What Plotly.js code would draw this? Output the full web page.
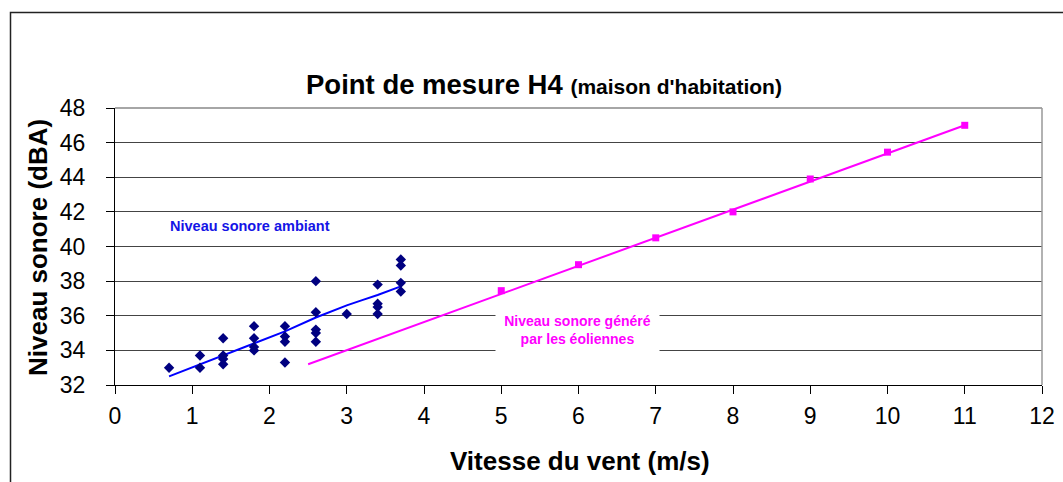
<!DOCTYPE html>
<html>
<head>
<meta charset="utf-8">
<script src="https://cdn.plot.ly/plotly-3.0.1.min.js"></script>
<style>
html,body{margin:0;padding:0;background:#fff;}
#chart{width:1063px;height:482px;}
</style>
</head>
<body>
<div id="chart"></div>
<script>
// Measured ambient noise (scatter)
const ambientWind = [0.7,1.1,1.1,1.4,1.4,1.4,1.4,1.8,1.8,1.8,1.8,2.2,2.2,2.2,2.2,2.6,2.6,2.6,2.6,2.6,3.0,3.4,3.4,3.4,3.4,3.7,3.7,3.7,3.7];
const ambientLevel = [33.0,33.7,33.0,34.7,33.7,33.5,33.2,35.4,34.7,34.2,34.0,35.4,34.8,34.5,33.3,38.0,36.2,35.2,35.0,34.5,36.1,37.8,36.7,36.5,36.1,39.25,38.9,37.9,37.4];
// Ambient trend curve
const ambientTrendWind = [0.7,1.1,1.4,1.8,2.2,2.6,3.0,3.2,3.4,3.7];
const ambientTrendLevel = [32.5,33.2,33.7,34.4,35.1,35.9,36.6,36.9,37.2,37.7];
// Wind-turbine generated noise
const turbineWind = [5,6,7,8,9,10,11];
const turbineLevel = [37.45,38.95,40.5,42.0,43.9,45.45,47.0];
// Turbine trend line
const turbineTrendWind = [2.5,11];
const turbineTrendLevel = [33.2,47.0];

const xTicks = [0,1,2,3,4,5,6,7,8,9,10,11,12];
const yTicks = [32,34,36,38,40,42,44,46,48];

const FONT = 'Liberation Sans, Arial, sans-serif';

// pixel helpers for paper coordinates
const L = 115, R = 1063-1042, T = 108, B = 482-385;
const W = 1063 - L - R, H = 482 - T - B;
const px = x => (x - L) / W;
const py = y => (482 - B - y) / H;

const traces = [
  {x: ambientTrendWind, y: ambientTrendLevel, mode:'lines', line:{color:'#0000FF', width:2}, hoverinfo:'skip'},
  {x: ambientWind, y: ambientLevel, mode:'markers', marker:{symbol:'diamond', color:'#000080', size:8}},
  {x: turbineTrendWind, y: turbineTrendLevel, mode:'lines', line:{color:'#FF00FF', width:2}, hoverinfo:'skip'},
  {x: turbineWind, y: turbineLevel, mode:'markers', marker:{symbol:'square', color:'#FF00FF', size:7}}
];

const layout = {
  width:1063, height:482,
  margin:{l:L, r:R, t:T, b:B, pad:0},
  paper_bgcolor:'#fff', plot_bgcolor:'#fff',
  showlegend:false,
  font:{family:FONT, color:'#000'},
  xaxis:{
    range:[0,12], tickvals:xTicks, ticktext:xTicks.map(String),
    showgrid:false, zeroline:false,
    showline:true, linecolor:'#000', linewidth:1,
    ticks:'outside', ticklen:8, tickcolor:'#000', tickwidth:1,
    tickfont:{family:FONT, size:23, color:'#000'}, ticklabelstandoff:2
  },
  yaxis:{
    range:[32,48], tickvals:yTicks, ticktext:yTicks.map(String),
    showgrid:true, gridcolor:'#444', gridwidth:1, zeroline:false,
    showline:true, linecolor:'#000', linewidth:1,
    ticks:'outside', ticklen:8, tickcolor:'#000', tickwidth:1,
    tickfont:{family:FONT, size:23, color:'#000'}, ticklabelstandoff:16
  },
  shapes:[
    // plot area top and right frame (grey)
    {type:'line', xref:'paper', yref:'paper', x0:0, x1:1, y0:1, y1:1, line:{color:'#888', width:1.5}},
    {type:'line', xref:'paper', yref:'paper', x0:1, x1:1, y0:0, y1:1, line:{color:'#999', width:1.5}},
    // outer chart border
    {type:'rect', xref:'paper', yref:'paper', x0:px(10.5), x1:px(1075), y0:py(12.5), y1:py(495), line:{color:'#222', width:1.5}, fillcolor:'rgba(0,0,0,0)', layer:'above'}
  ],
  annotations:[
    {xref:'paper', yref:'paper', x:px(544), y:py(84), xanchor:'center', yanchor:'middle', showarrow:false,
     text:'<b>Point de mesure H4</b> <b><span style="font-size:21px">(maison d\'habitation)</span></b>',
     font:{family:FONT, size:27.5, color:'#000'}},
    {xref:'paper', yref:'paper', x:px(38), y:py(248), xanchor:'center', yanchor:'middle', showarrow:false, textangle:-90,
     text:'<b>Niveau sonore (dBA)</b>', font:{family:FONT, size:26, color:'#000'}},
    {xref:'paper', yref:'paper', x:px(580), y:py(461), xanchor:'center', yanchor:'middle', showarrow:false,
     text:'<b>Vitesse du vent (m/s)</b>', font:{family:FONT, size:26, color:'#000'}},
    {xref:'paper', yref:'paper', x:px(250), y:py(226), xanchor:'center', yanchor:'middle', showarrow:false,
     text:'<b>Niveau sonore ambiant</b>', font:{family:FONT, size:14.5, color:'#1414E6'}},
    {xref:'paper', yref:'paper', x:px(577), y:py(330), xanchor:'center', yanchor:'middle', showarrow:false,
     text:'<b>Niveau sonore généré<br>par les éoliennes</b>', font:{family:FONT, size:14, color:'#FF00FF'},
     bgcolor:'#fff', borderpad:0, width:163, height:44}
  ]
};

Plotly.newPlot('chart', traces, layout, {displayModeBar:false, staticPlot:true});
</script>
</body>
</html>
